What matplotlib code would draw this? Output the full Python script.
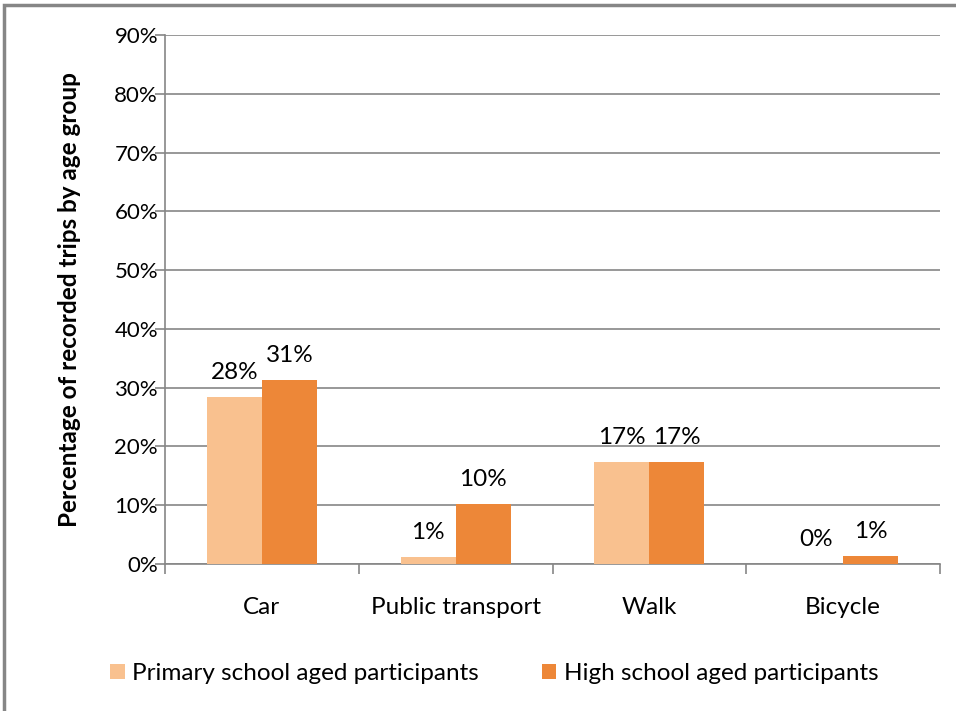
import numpy as np
import matplotlib.pyplot as plt
from matplotlib.patches import Rectangle

# data
modes = ["Car", "Public transport", "Walk", "Bicycle"]
primary = [28.4, 1.2, 17.3, 0.0]
high = [31.3, 10.2, 17.3, 1.3]
series_names = ["Primary school aged participants", "High school aged participants"]
yticks = [0, 10, 20, 30, 40, 50, 60, 70, 80, 90]

light = "#F9C18F"
dark = "#ED8738"
grey = "#868686"

plt.rcParams['font.family'] = ['Lato', 'DejaVu Sans']
fs = 17.5

fig = plt.figure(figsize=(9.56, 7.11), dpi=100)
ax = fig.add_axes([0.1726, 0.2068, 0.8107, 0.744])

# outer frame (left and top visible)
fig.patches.append(Rectangle((0.004, -0.05), 1.2, 1.043, transform=fig.transFigure,
                             fill=False, edgecolor=grey, linewidth=2.5))

x = np.arange(len(modes))
w = 0.284
b1 = ax.bar(x - w / 2, primary, w, color=light, label=series_names[0], zorder=3)
b2 = ax.bar(x + w / 2, high, w, color=dark, label=series_names[1], zorder=3)

for bars, vals in ((b1, primary), (b2, high)):
    for r, v in zip(bars, vals):
        ax.annotate("%d%%" % round(v), (r.get_x() + r.get_width() / 2, v),
                    xytext=(0, 10), textcoords="offset points",
                    ha="center", va="bottom", fontsize=fs)

ax.set_xlim(-0.5, len(modes) - 0.5)
ax.set_ylim(0, 90)
ax.set_yticks(yticks)
ax.set_yticklabels(["%d%%" % t for t in yticks], fontsize=16)
ax.yaxis.grid(True, color=grey, linewidth=1.2, zorder=0)
ax.set_axisbelow(True)

ax.set_xticks(x)
ax.set_xticklabels(modes, fontsize=fs)
ax.tick_params(axis="x", length=0, pad=24)
ax.set_xticks(np.arange(-0.5, len(modes)), minor=True)
ax.tick_params(axis="x", which="minor", length=7, color=grey, width=1.2, direction="out")
ax.tick_params(axis="y", length=7, color=grey, width=1.2, direction="out", pad=-2)

for s in ("top", "right"):
    ax.spines[s].set_visible(False)
for s in ("left", "bottom"):
    ax.spines[s].set_color(grey)
    ax.spines[s].set_linewidth(1.2)

ax.set_ylabel("Percentage of recorded trips by age group", fontsize=fs,
              fontweight="bold", labelpad=24)

fig.legend(handles=[b1, b2], loc="center", bbox_to_anchor=(0.517, 0.053), ncol=2,
           frameon=False, fontsize=fs, handlelength=0.6, handleheight=0.6,
           handletextpad=0.3, columnspacing=2.6)

fig.savefig("out.png", dpi=100)
